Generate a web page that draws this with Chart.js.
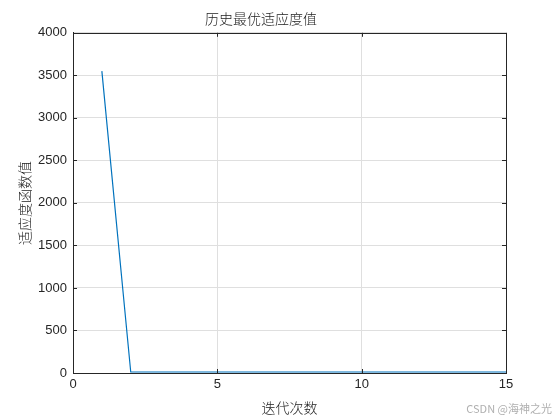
<!DOCTYPE html>
<html><head><meta charset="utf-8">
<script src="https://cdn.jsdelivr.net/npm/chart.js@4/dist/chart.umd.min.js"></script>
<style>html,body{margin:0;padding:0;background:#fff}#wrap{width:560px;height:420px}</style>
</head><body><div id="wrap"><canvas id="c" width="560" height="420"></canvas></div>
<script>
const iterations = [1,2,3,4,5,6,7,8,9,10,11,12,13,14,15];
const fitness = [3550,12,12,12,12,12,12,12,12,12,12,12,12,12,12];
const xTicks = [0,5,10,15];
const yTicks = [0,500,1000,1500,2000,2500,3000,3500,4000];
const titleText = '历史最优适应度值';
const xLabel = '迭代次数';
const yLabel = '适应度函数值';
const watermark = 'CSDN @海神之光';

const boxPlugin = {
  id:'box',
  afterDraw(chart){
    const {ctx, chartArea:a} = chart;
    ctx.save();
    ctx.strokeStyle='#262626'; ctx.lineWidth=1;
    ctx.strokeRect(Math.round(a.left)+0.5, Math.round(a.top)+0.5, Math.round(a.right-a.left), Math.round(a.bottom-a.top));
    const xs=chart.scales.x, ys=chart.scales.y;
    ctx.beginPath();
    xTicks.forEach(v=>{const px=Math.round(xs.getPixelForValue(v))+0.5; ctx.moveTo(px,a.bottom); ctx.lineTo(px,a.bottom-4); ctx.moveTo(px,a.top); ctx.lineTo(px,a.top+4);});
    yTicks.forEach(v=>{const py=Math.round(ys.getPixelForValue(v))+0.5; ctx.moveTo(a.left,py); ctx.lineTo(a.left+4,py); ctx.moveTo(a.right,py); ctx.lineTo(a.right-4,py);});
    ctx.stroke();
    ctx.fillStyle='#b0b0b0'; ctx.font='11px "Noto Sans CJK SC", sans-serif'; ctx.textAlign='right'; ctx.textBaseline='alphabetic';
    ctx.fillText(watermark, 552, 413);
    ctx.restore();
  }
};

const cjk = '"Noto Sans CJK SC", sans-serif';
const num = 'Arial, "Liberation Sans", sans-serif';
new Chart(document.getElementById('c'), {
  type:'line',
  data:{labels:iterations, datasets:[{data:iterations.map((x,i)=>({x:x,y:fitness[i]})), borderColor:'#0072BD', borderWidth:1.2, pointRadius:0, tension:0, fill:false}]},
  options:{
    responsive:false, animation:false,
    layout:{padding:{left:16,right:54,top:0,bottom:0}},
    plugins:{legend:{display:false}, tooltip:{enabled:false},
      title:{display:true, text:titleText, color:'#222', font:{family:cjk, size:14, weight:'300'}, padding:{top:10,bottom:6}}},
    scales:{
      x:{type:'linear', min:0, max:15,
        afterBuildTicks(s){s.ticks=xTicks.map(v=>({value:v}));},
        afterFit(s){s.height=47;},
        grid:{color:'#dfdfdf', drawTicks:false}, border:{color:'#262626'},
        ticks:{color:'#262626', font:{family:num, size:13}, padding:4, maxRotation:0, callback:v=>String(v)},
        title:{display:true, text:xLabel, color:'#222', font:{family:cjk, size:14, weight:'300'}, padding:{top:0,bottom:4}}},
      y:{min:0, max:4000,
        afterBuildTicks(s){s.ticks=yTicks.map(v=>({value:v}));},
        afterFit(s){s.width=57;},
        grid:{color:'#dfdfdf', drawTicks:false}, border:{color:'#262626'},
        ticks:{color:'#262626', font:{family:num, size:13}, padding:6, callback:v=>String(v)},
        title:{display:true, text:yLabel, color:'#222', font:{family:cjk, size:14, weight:'300'}, padding:{top:0,bottom:4}}}
    }
  },
  plugins:[boxPlugin]
});
</script></body></html>
